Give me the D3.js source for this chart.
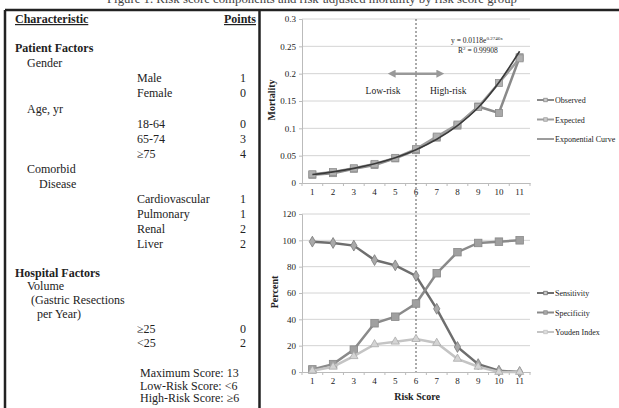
<!DOCTYPE html>
<html>
<head>
<meta charset="utf-8">
<script src="https://cdn.jsdelivr.net/npm/d3@7"></script>
<style>
  body { margin: 0; background: #fff; }
  svg text { font-family: "Liberation Serif", "DejaVu Serif", serif; fill: #222; }
</style>
</head>
<body>
<div class="container"></div>
<script>
/********** the Data **********/
// risk score table (left panel)
let tableRows = [
  {text: "Patient Factors", level: 0, bold: true, y: 52},
  {text: "Gender", level: 1, y: 67},
  {text: "Male", level: 3, pts: "1", y: 82},
  {text: "Female", level: 3, pts: "0", y: 97},
  {text: "Age, yr", level: 1, y: 113},
  {text: "18-64", level: 3, pts: "0", y: 128},
  {text: "65-74", level: 3, pts: "3", y: 143},
  {text: "\u226575", level: 3, pts: "4", y: 158},
  {text: "Comorbid", level: 1, y: 173},
  {text: "Disease", level: 2, y: 188},
  {text: "Cardiovascular", level: 3, pts: "1", y: 203},
  {text: "Pulmonary", level: 3, pts: "1", y: 218},
  {text: "Renal", level: 3, pts: "2", y: 233},
  {text: "Liver", level: 3, pts: "2", y: 248},
  {text: "Hospital Factors", level: 0, bold: true, y: 277},
  {text: "Volume", level: 1, y: 290},
  {text: "(Gastric Resections", level: 1.5, y: 304},
  {text: "per Year)", level: 1.8, y: 318},
  {text: "\u226525", level: 3, pts: "0", y: 333},
  {text: "<25", level: 3, pts: "2", y: 347}
];
let scoreNotes = ["Maximum Score:  13", "Low-Risk Score:  <6", "High-Risk Score:  \u22656"];

// shared x categories
let riskScores = [1, 2, 3, 4, 5, 6, 7, 8, 9, 10, 11];

// mortality panel
let observed = [0.015, 0.018, 0.026, 0.033, 0.045, 0.060, 0.083, 0.105, 0.140, 0.128, 0.230];
let expected = [0.016, 0.020, 0.027, 0.035, 0.046, 0.062, 0.085, 0.107, 0.139, 0.183, 0.228];
let expCurve = [0.0155, 0.0204, 0.0268, 0.0352, 0.0463, 0.0609, 0.0800, 0.105, 0.138, 0.184, 0.241];
let mortTicks = [0, 0.05, 0.1, 0.15, 0.2, 0.25, 0.3];

// percent panel
let sensitivity = [99, 98, 96, 85, 81, 73, 48, 19, 6, 1, 0];
let specificity = [2, 6, 17, 37, 42, 52, 75, 91, 98, 99, 100];
let youden = [1, 4, 12, 21, 23, 25, 22, 10, 4, 0, 0];
let pctTicks = [0, 20, 40, 60, 80, 100, 120];

let cutoff = 6;

/********** drawChart **********/
function drawChart() {
  let width = 619, height = 408;

  let svg = d3.select(".container").append("svg")
    .attr("width", width)
    .attr("height", height);

  // caption, mostly cut off by the top edge as in the scan
  svg.append("text")
    .attr("x", 107).attr("y", 3)
    .attr("textLength", 410)
    .attr("lengthAdjust", "spacingAndGlyphs")
    .style("font-size", "12px")
    .style("fill", "#444")
    .text("Figure 1. Risk score components and risk-adjusted mortality by risk score group");

  /***** frame *****/
  let frame = svg.append("g").attr("stroke", "#222").attr("fill", "none");
  frame.append("line").attr("x1", 5).attr("x2", width).attr("y1", 10).attr("y2", 10).attr("stroke-width", 2.5);
  frame.append("line").attr("x1", 5).attr("x2", 5).attr("y1", 10).attr("y2", height).attr("stroke-width", 2.5);
  frame.append("line").attr("x1", 259.5).attr("x2", 259.5).attr("y1", 10).attr("y2", height).attr("stroke-width", 2.5);

  /***** table *****/
  let tbl = svg.append("g").style("font-size", "12px");
  tbl.append("text").attr("x", 15).attr("y", 23)
    .style("font-weight", "bold").style("text-decoration", "underline").text("Characteristic");
  tbl.append("text").attr("x", 256).attr("y", 23).attr("text-anchor", "end")
    .style("font-weight", "bold").style("text-decoration", "underline").text("Points");

  let levelX = {0: 15, 1: 27, 1.5: 31, 1.8: 37, 2: 39, 3: 137};
  tbl.selectAll(".row").data(tableRows).join("text")
    .attr("class", "row")
    .attr("x", d => levelX[d.level])
    .attr("y", d => d.y)
    .style("font-weight", d => d.bold ? "bold" : "normal")
    .text(d => d.text);
  tbl.selectAll(".pts").data(tableRows.filter(d => d.pts)).join("text")
    .attr("class", "pts")
    .attr("x", 243).attr("y", d => d.y)
    .attr("text-anchor", "middle")
    .text(d => d.pts);
  tbl.selectAll(".note").data(scoreNotes).join("text")
    .attr("class", "note")
    .attr("x", 140).attr("y", (d, i) => 377 + i * 12.5)
    .text(d => d);

  /***** scales *****/
  let xScale = d3.scaleBand().domain(riskScores).range([302, 530]).padding(0);
  let xc = d => xScale(d) + xScale.bandwidth() / 2;

  let yTop = d3.scaleLinear().domain([0, 0.3]).range([183, 19]);
  let yBot = d3.scaleLinear().domain([0, 120]).range([372, 214]);

  function panel(yScale, ticks, fmt) {
    let g = svg.append("g");
    // gridlines
    g.selectAll(".grid").data(ticks.slice(1)).join("line")
      .attr("x1", 302).attr("x2", 530)
      .attr("y1", d => yScale(d)).attr("y2", d => yScale(d))
      .attr("stroke", "#d4d4d4").attr("stroke-width", 1);
    // y axis
    let ya = g.append("g").attr("transform", "translate(302,0)")
      .call(d3.axisLeft(yScale).tickValues(ticks).tickFormat(fmt).tickSize(3).tickPadding(3));
    ya.select(".domain").attr("stroke", "#bbb");
    ya.selectAll(".tick line").attr("stroke", "#bbb");
    ya.selectAll("text").style("font-size", "9px").style("font-family", "Liberation Serif").attr("fill", "#333");
    // x axis
    let y0 = yScale(0);
    let xa = g.append("g").attr("transform", `translate(0,${y0})`)
      .call(d3.axisBottom(xScale).tickSize(0).tickPadding(6));
    xa.select(".domain").attr("stroke", "#bbb");
    xa.selectAll("text").style("font-size", "9px").style("font-family", "Liberation Serif").attr("fill", "#333");
    g.selectAll(".xtick").data(riskScores.concat([null])).join("line")
      .attr("x1", (d, i) => 302 + i * xScale.step())
      .attr("x2", (d, i) => 302 + i * xScale.step())
      .attr("y1", y0).attr("y2", y0 + 3)
      .attr("stroke", "#bbb");
    return g;
  }

  panel(yTop, mortTicks, d => String(d));
  panel(yBot, pctTicks, d => String(d));

  // axis titles
  svg.append("text").attr("transform", "translate(275,100) rotate(-90)")
    .attr("text-anchor", "middle").style("font-size", "10px").style("font-weight", "bold").text("Mortality");
  svg.append("text").attr("transform", "translate(278,292) rotate(-90)")
    .attr("text-anchor", "middle").style("font-size", "10px").style("font-weight", "bold").text("Percent");
  svg.append("text").attr("x", 417).attr("y", 400)
    .attr("text-anchor", "middle").style("font-size", "10px").style("font-weight", "bold").text("Risk Score");

  // cutoff dashed line
  svg.append("line")
    .attr("x1", xc(cutoff)).attr("x2", xc(cutoff))
    .attr("y1", yTop(0.3)).attr("y2", yBot(0))
    .attr("stroke", "#555").attr("stroke-width", 1).attr("stroke-dasharray", "2,2");

  // double arrow + risk labels
  let defs = svg.append("defs");
  defs.append("marker").attr("id", "ah").attr("viewBox", "0 0 10 10")
    .attr("refX", 3).attr("refY", 5).attr("markerWidth", 3.2).attr("markerHeight", 3.2)
    .attr("orient", "auto-start-reverse")
    .append("path").attr("d", "M0,0 L10,5 L0,10 z").attr("fill", "#999");
  let step = xScale.step();
  svg.append("line")
    .attr("x1", xc(cutoff) - step * 1.1).attr("x2", xc(cutoff) + step * 1.1)
    .attr("y1", yTop(0.2)).attr("y2", yTop(0.2))
    .attr("stroke", "#999").attr("stroke-width", 2.5)
    .attr("marker-start", "url(#ah)").attr("marker-end", "url(#ah)");
  svg.append("text").attr("x", 383).attr("y", 94).attr("text-anchor", "middle")
    .style("font-size", "9.5px").text("Low-risk");
  svg.append("text").attr("x", 430).attr("y", 94)
    .style("font-size", "9.5px").text("High-risk");

  // equation
  let eq = svg.append("text").attr("x", 451).attr("y", 43).style("font-size", "7.5px");
  eq.append("tspan").text("y = 0.0118e");
  eq.append("tspan").attr("dy", -3).style("font-size", "5px").text("0.2746x");
  let r2 = svg.append("text").attr("x", 458).attr("y", 53).style("font-size", "7.5px");
  r2.append("tspan").text("R");
  r2.append("tspan").attr("dy", -3).style("font-size", "5px").text("2");
  r2.append("tspan").attr("dy", 3).text(" = 0.99908");

  /***** series *****/
  function square(g, x, y, s, fill, stroke) {
    g.append("rect").attr("x", x - s / 2).attr("y", y - s / 2).attr("width", s).attr("height", s)
      .attr("fill", fill).attr("stroke", stroke).attr("stroke-width", 0.8);
  }
  function series(yScale, vals, color, width, shape, mFill, mStroke, size) {
    let g = svg.append("g");
    let line = d3.line().x((d, i) => xc(riskScores[i])).y(d => yScale(d));
    g.append("path").datum(vals).attr("d", line)
      .attr("fill", "none").attr("stroke", color).attr("stroke-width", width);
    vals.forEach((v, i) => {
      let x = xc(riskScores[i]), y = yScale(v);
      if (shape === "square") square(g, x, y, size, mFill, mStroke);
      else {
        let sym = shape === "diamond" ? d3.symbolDiamond : d3.symbolTriangle;
        g.append("path").attr("d", d3.symbol(sym, size)())
          .attr("transform", `translate(${x},${y})`)
          .attr("fill", mFill).attr("stroke", mStroke).attr("stroke-width", 0.8);
      }
    });
  }

  series(yTop, observed, "#8a8a8a", 2.5, "square", "#a8a8a8", "#8a8a8a", 7);
  series(yTop, expected, "#9c9c9c", 2.5, "square", "#b0b0b0", "#909090", 7);
  svg.append("path").datum(expCurve)
    .attr("d", d3.line().curve(d3.curveMonotoneX).x((d, i) => xc(riskScores[i])).y(d => yTop(d)))
    .attr("fill", "none").attr("stroke", "#3a3a3a").attr("stroke-width", 1.6);

  series(yBot, sensitivity, "#6e6e6e", 2.5, "diamond", "#a9a9a9", "#7a7a7a", 34);
  series(yBot, specificity, "#8a8a8a", 2.5, "square", "#a0a0a0", "#888", 7.5);
  series(yBot, youden, "#c4c4c4", 2.5, "triangle", "#d4d4d4", "#aaa", 30);

  /***** legends *****/
  function legend(items, y0, dy) {
    let g = svg.append("g");
    items.forEach((it, i) => {
      let y = y0 + i * dy;
      g.append("line").attr("x1", 537).attr("x2", 554).attr("y1", y).attr("y2", y)
        .attr("stroke", it.color).attr("stroke-width", it.w);
      if (it.marker) square(g, 545.5, y, 3.5, it.mfill, it.color);
      g.append("text").attr("x", 555).attr("y", y + 3).style("font-size", "8px").text(it.name);
    });
  }
  legend([
    {name: "Observed", color: "#8a8a8a", w: 2, marker: true, mfill: "#ccc"},
    {name: "Expected", color: "#9c9c9c", w: 2, marker: true, mfill: "#ccc"},
    {name: "Exponential Curve", color: "#3a3a3a", w: 1}
  ], 100, 19.5);
  legend([
    {name: "Sensitivity", color: "#6e6e6e", w: 2, marker: true, mfill: "#ccc"},
    {name: "Specificity", color: "#8a8a8a", w: 2, marker: true, mfill: "#aaa"},
    {name: "Youden Index", color: "#c4c4c4", w: 2, marker: true, mfill: "#ddd"}
  ], 293, 19.5);
}

drawChart();
</script>
</body>
</html>
